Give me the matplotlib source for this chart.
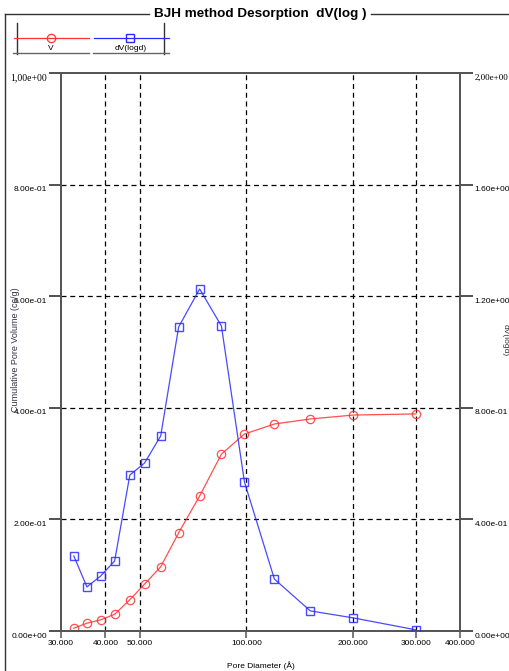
import matplotlib
matplotlib.use("Agg")
import matplotlib.pyplot as plt
from matplotlib.lines import Line2D
from matplotlib.ticker import FixedLocator, FixedFormatter, NullLocator
from matplotlib.transforms import ScaledTranslation

# ---- data ----
diameter = [32.6, 35.5, 38.8, 42.5, 46.9, 51.6, 57.3, 64.4, 73.8, 85.0, 98.7,
            119.9, 151.4, 200.0, 300.8]
cum_volume = [0.005, 0.014, 0.020, 0.030, 0.056, 0.084, 0.115, 0.176, 0.242,
              0.317, 0.353, 0.371, 0.380, 0.387, 0.389]
dv_logd = [0.269, 0.158, 0.197, 0.251, 0.559, 0.602, 0.699, 1.090, 1.226,
           1.093, 0.534, 0.186, 0.072, 0.047, 0.004]

x_ticks = [30, 40, 50, 100, 200, 300, 400]
x_labels = ["30.000", "40.000", "50.000", "100.000", "200.000", "300.000", "400.000"]
x_grid = [40, 50, 100, 200, 300]
left_ticks = [0.0, 0.2, 0.4, 0.6, 0.8, 1.0]
left_labels = ["0.00e+00", "2.00e-01", "4.00e-01", "6.00e-01", "8.00e-01", "1,00e+00"]
right_ticks = [0.0, 0.4, 0.8, 1.2, 1.6, 2.0]
right_labels = ["0.00e+00", "4.00e-01", "8.00e-01", "1.20e+00", "1.60e+00", "2,00e+00"]

title = "BJH method Desorption  dV(log )"
xlabel = "Pore Diameter (Å)"
ylabel_left = "Cumulative Pore Volume (cc/g)"
ylabel_right = "dV(logd)"
legend_labels = ["V", "dV(logd)"]

RED = "#ff3030"
BLUE = "#2a2aff"
W, H = 509, 671

plt.rcParams['font.family'] = ['Liberation Sans', 'DejaVu Sans']
fig = plt.figure(figsize=(W / 100, H / 100), dpi=100)

def fx(px):
    return px / W

def fy(py):
    return 1 - py / H

ax = fig.add_axes([fx(61), fy(631), fx(460) - fx(61), fy(73) - fy(631)])
ax2 = ax.twinx()

ax.set_xscale('log')
ax.set_xlim(30, 400)
ax.set_ylim(0, 1.0)
ax2.set_ylim(0, 2.0)

# grid
for g in x_grid:
    ax.axvline(g, color='black', lw=0.9, ls=(0, (4, 3)), zorder=1)
for g in left_ticks[1:-1]:
    ax.axhline(g, color='black', lw=0.9, ls=(0, (4, 3)), zorder=1)

ax.plot(diameter, cum_volume, color=RED, lw=0.9, alpha=0.85, marker='o',
        markersize=6, markerfacecolor='none', markeredgecolor=RED,
        markeredgewidth=0.9, zorder=3)
ax2.plot(diameter, dv_logd, color=BLUE, lw=0.9, alpha=0.85, marker='s',
         markersize=6, markerfacecolor='none', markeredgecolor=BLUE,
         markeredgewidth=1.0, zorder=3)

ax.xaxis.set_major_locator(FixedLocator(x_ticks))
ax.xaxis.set_major_formatter(FixedFormatter(x_labels))
ax.xaxis.set_minor_locator(NullLocator())
ax.yaxis.set_major_locator(FixedLocator(left_ticks))
ax.yaxis.set_major_formatter(FixedFormatter(left_labels))
ax2.yaxis.set_major_locator(FixedLocator(right_ticks))
ax2.yaxis.set_major_formatter(FixedFormatter(right_labels))

spine_col = '#555555'
for a in (ax, ax2):
    for s in a.spines.values():
        s.set_color(spine_col)
        s.set_linewidth(1.3)

ax.tick_params(axis='x', direction='out', length=5, width=1.1, color=spine_col,
               labelsize=6, pad=1.5)
ax.tick_params(axis='y', direction='out', length=9, width=1.1, color='#222222',
               labelsize=6, pad=1)
ax2.tick_params(axis='y', direction='out', length=9, width=1.1, color='#222222',
                labelsize=6, pad=1.5)

fig.canvas.draw()
off = ScaledTranslation(0, -3 / 72, fig.dpi_scale_trans)
for a, fs in ((ax, 7), (ax2, 6.5)):
    labs = a.get_yticklabels()
    for lb in labs:
        lb.set_transform(lb.get_transform() + off)
    labs[-1].set_fontfamily('Liberation Serif')
    labs[-1].set_fontsize(fs)

ax.set_xlabel(xlabel, fontsize=6, labelpad=10)
fig.text(fx(16), fy(350), ylabel_left, rotation=90, fontsize=6.5,
         ha='center', va='center', color='#333344')
fig.text(fx(505), fy(340), ylabel_right, rotation=270, fontsize=6,
         ha='center', va='center', color='#333333')

# frame with title
fig.add_artist(Line2D([fx(5), fx(5)], [fy(14), 0], color='#333333', lw=1.0))
fig.add_artist(Line2D([fx(5), fx(149)], [fy(14), fy(14)], color='#333333', lw=1.0))
fig.add_artist(Line2D([fx(371), 1], [fy(14), fy(14)], color='#333333', lw=1.0))
fig.text(fx(260), fy(14.5), title, fontsize=9.7, fontweight='bold',
         ha='center', va='center')

# legend box
lc = '#333333'
fig.add_artist(Line2D([fx(17), fx(17)], [fy(23), fy(54)], color=lc, lw=1.0))
fig.add_artist(Line2D([fx(164), fx(164)], [fy(23), fy(54)], color=lc, lw=1.0))
fig.add_artist(Line2D([fx(14), fx(89)], [fy(38), fy(38)], color=RED, lw=0.9))
fig.add_artist(Line2D([fx(51)], [fy(38)], color=RED, marker='o', markersize=6,
                      markerfacecolor='none', markeredgewidth=0.9, ls='none'))
fig.add_artist(Line2D([fx(94), fx(169)], [fy(38), fy(38)], color=BLUE, lw=0.9))
fig.add_artist(Line2D([fx(130)], [fy(38)], color=BLUE, marker='s', markersize=6,
                      markerfacecolor='none', markeredgewidth=1.0, ls='none'))
fig.add_artist(Line2D([fx(13), fx(89)], [fy(53), fy(53)], color='#666666', lw=1.0))
fig.add_artist(Line2D([fx(93), fx(169)], [fy(53), fy(53)], color='#666666', lw=1.0))
fig.text(fx(51), fy(48), legend_labels[0], fontsize=6, ha='center', va='center')
fig.text(fx(131), fy(48), legend_labels[1], fontsize=6, ha='center', va='center')

fig.savefig('out.png', dpi=100)
